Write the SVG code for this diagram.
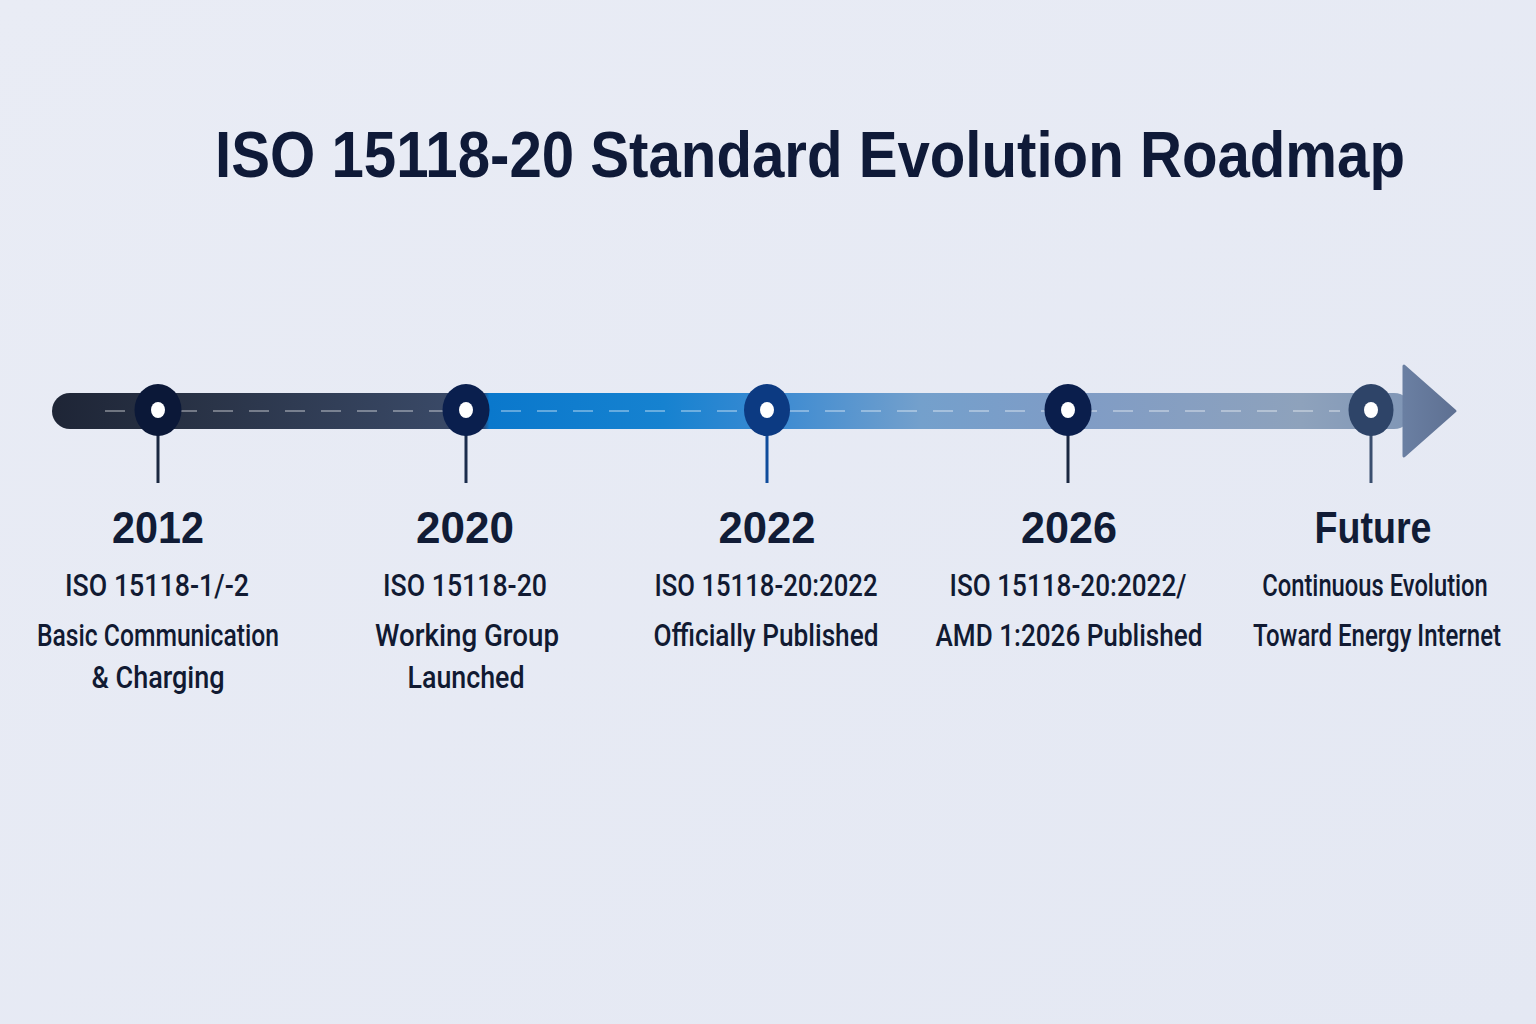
<svg xmlns="http://www.w3.org/2000/svg" width="1536" height="1024" viewBox="0 0 1536 1024">
  <defs>
    <linearGradient id="bg" x1="0" y1="0" x2="1" y2="1">
      <stop offset="0" stop-color="#e9ecf5"/>
      <stop offset="1" stop-color="#e4e8f3"/>
    </linearGradient>
    <linearGradient id="bar" gradientUnits="userSpaceOnUse" x1="52" y1="0" x2="1410" y2="0">
      <stop offset="0" stop-color="#1e2536"/>
      <stop offset="0.12" stop-color="#2a3448"/>
      <stop offset="0.30" stop-color="#3a4a68"/>
      <stop offset="0.318" stop-color="#2c4a78"/>
      <stop offset="0.322" stop-color="#0a78cc"/>
      <stop offset="0.45" stop-color="#1682d0"/>
      <stop offset="0.53" stop-color="#3a8ad2"/>
      <stop offset="0.64" stop-color="#74a0cc"/>
      <stop offset="0.75" stop-color="#7f9cc6"/>
      <stop offset="0.92" stop-color="#8ea2bc"/>
      <stop offset="1" stop-color="#8096b6"/>
    </linearGradient>
    <linearGradient id="head" gradientUnits="userSpaceOnUse" x1="1404" y1="0" x2="1456" y2="0">
      <stop offset="0" stop-color="#6a7fa2"/>
      <stop offset="1" stop-color="#5e7092"/>
    </linearGradient>
    <style>
      .title { font-family: "Liberation Sans", Arial, sans-serif; font-weight: 700; font-size: 64px; fill: #0f1a38; }
      .year { font-family: "Liberation Sans", Arial, sans-serif; font-weight: 700; font-size: 45px; fill: #111c36; text-anchor: middle; }
      .lbl { font-family: Roboto, "Liberation Sans", Arial, sans-serif; font-weight: 500; font-size: 31px; fill: #111a32; text-anchor: middle; }
      .hole { fill: #ffffff; }
      .stem { stroke-width: 3; }
    </style>
  </defs>

  <rect width="1536" height="1024" fill="url(#bg)"/>

  <text class="title" x="215" y="177" textLength="1190" lengthAdjust="spacingAndGlyphs">ISO 15118-20 Standard Evolution Roadmap</text>

  <g id="connectors">
    <rect x="52" y="393" width="1360" height="36" rx="18" fill="url(#bar)"/>
    <polygon points="1404,366 1455,411 1404,456" fill="url(#head)" stroke="url(#head)" stroke-width="3" stroke-linejoin="round"/>
    <line x1="105" y1="411" x2="1340" y2="411" stroke="#ffffff" stroke-opacity="0.35" stroke-width="2" stroke-dasharray="20 16"/>
    <line class="stem" x1="158" y1="430" x2="158" y2="483" stroke="#1a2740"/>
    <line class="stem" x1="466" y1="430" x2="466" y2="483" stroke="#1a2c4c"/>
    <line class="stem" x1="767" y1="430" x2="767" y2="483" stroke="#0f4c9c"/>
    <line class="stem" x1="1068" y1="430" x2="1068" y2="483" stroke="#1a2740"/>
    <line class="stem" x1="1371" y1="430" x2="1371" y2="483" stroke="#3a4e6e"/>
  </g>

  <g id="node-2012">
    <ellipse cx="158" cy="410" rx="23.5" ry="26" fill="#0b1838"/>
    <ellipse class="hole" cx="158" cy="410" rx="7" ry="8"/>
    <text class="year" x="158" y="543" textLength="92" lengthAdjust="spacingAndGlyphs">2012</text>
    <text class="lbl" x="157" y="596" textLength="184" lengthAdjust="spacingAndGlyphs">ISO 15118-1/-2</text>
    <text class="lbl" x="158" y="646" textLength="242" lengthAdjust="spacingAndGlyphs">Basic Communication</text>
    <text class="lbl" x="158" y="688" textLength="133" lengthAdjust="spacingAndGlyphs">&amp; Charging</text>
  </g>

  <g id="node-2020">
    <ellipse cx="466" cy="410" rx="23.5" ry="26" fill="#0a1f4e"/>
    <ellipse class="hole" cx="466" cy="410" rx="7" ry="8"/>
    <text class="year" x="465" y="543" textLength="98" lengthAdjust="spacingAndGlyphs">2020</text>
    <text class="lbl" x="465" y="596" textLength="164" lengthAdjust="spacingAndGlyphs">ISO 15118-20</text>
    <text class="lbl" x="467" y="646" textLength="184" lengthAdjust="spacingAndGlyphs">Working Group</text>
    <text class="lbl" x="466" y="688" textLength="117" lengthAdjust="spacingAndGlyphs">Launched</text>
  </g>

  <g id="node-2022">
    <ellipse cx="767" cy="410" rx="23" ry="26" fill="#0c3a82"/>
    <ellipse class="hole" cx="767" cy="410" rx="7" ry="8"/>
    <text class="year" x="767" y="543" textLength="97" lengthAdjust="spacingAndGlyphs">2022</text>
    <text class="lbl" x="766" y="596" textLength="223" lengthAdjust="spacingAndGlyphs">ISO 15118-20:2022</text>
    <text class="lbl" x="766" y="646" textLength="225" lengthAdjust="spacingAndGlyphs">Officially Published</text>
  </g>

  <g id="node-2026">
    <ellipse cx="1068" cy="410" rx="23.5" ry="26" fill="#0a1e4c"/>
    <ellipse class="hole" cx="1068" cy="410" rx="7" ry="8"/>
    <text class="year" x="1069" y="543" textLength="96" lengthAdjust="spacingAndGlyphs">2026</text>
    <text class="lbl" x="1068" y="596" textLength="237" lengthAdjust="spacingAndGlyphs">ISO 15118-20:2022/</text>
    <text class="lbl" x="1069" y="646" textLength="267" lengthAdjust="spacingAndGlyphs">AMD 1:2026 Published</text>
  </g>

  <g id="node-future">
    <ellipse cx="1371" cy="410" rx="22.5" ry="26" fill="#2e4468"/>
    <ellipse class="hole" cx="1371" cy="410" rx="7" ry="8"/>
    <text class="year" x="1373" y="543" textLength="117" lengthAdjust="spacingAndGlyphs">Future</text>
    <g transform="translate(1375 0) scale(0.8 1)">
      <text class="lbl" x="0" y="596" textLength="282" lengthAdjust="spacingAndGlyphs">Continuous Evolution</text>
    </g>
    <g transform="translate(1377 0) scale(0.8 1)">
      <text class="lbl" x="0" y="646" textLength="310" lengthAdjust="spacingAndGlyphs">Toward Energy Internet</text>
    </g>
  </g>
</svg>
